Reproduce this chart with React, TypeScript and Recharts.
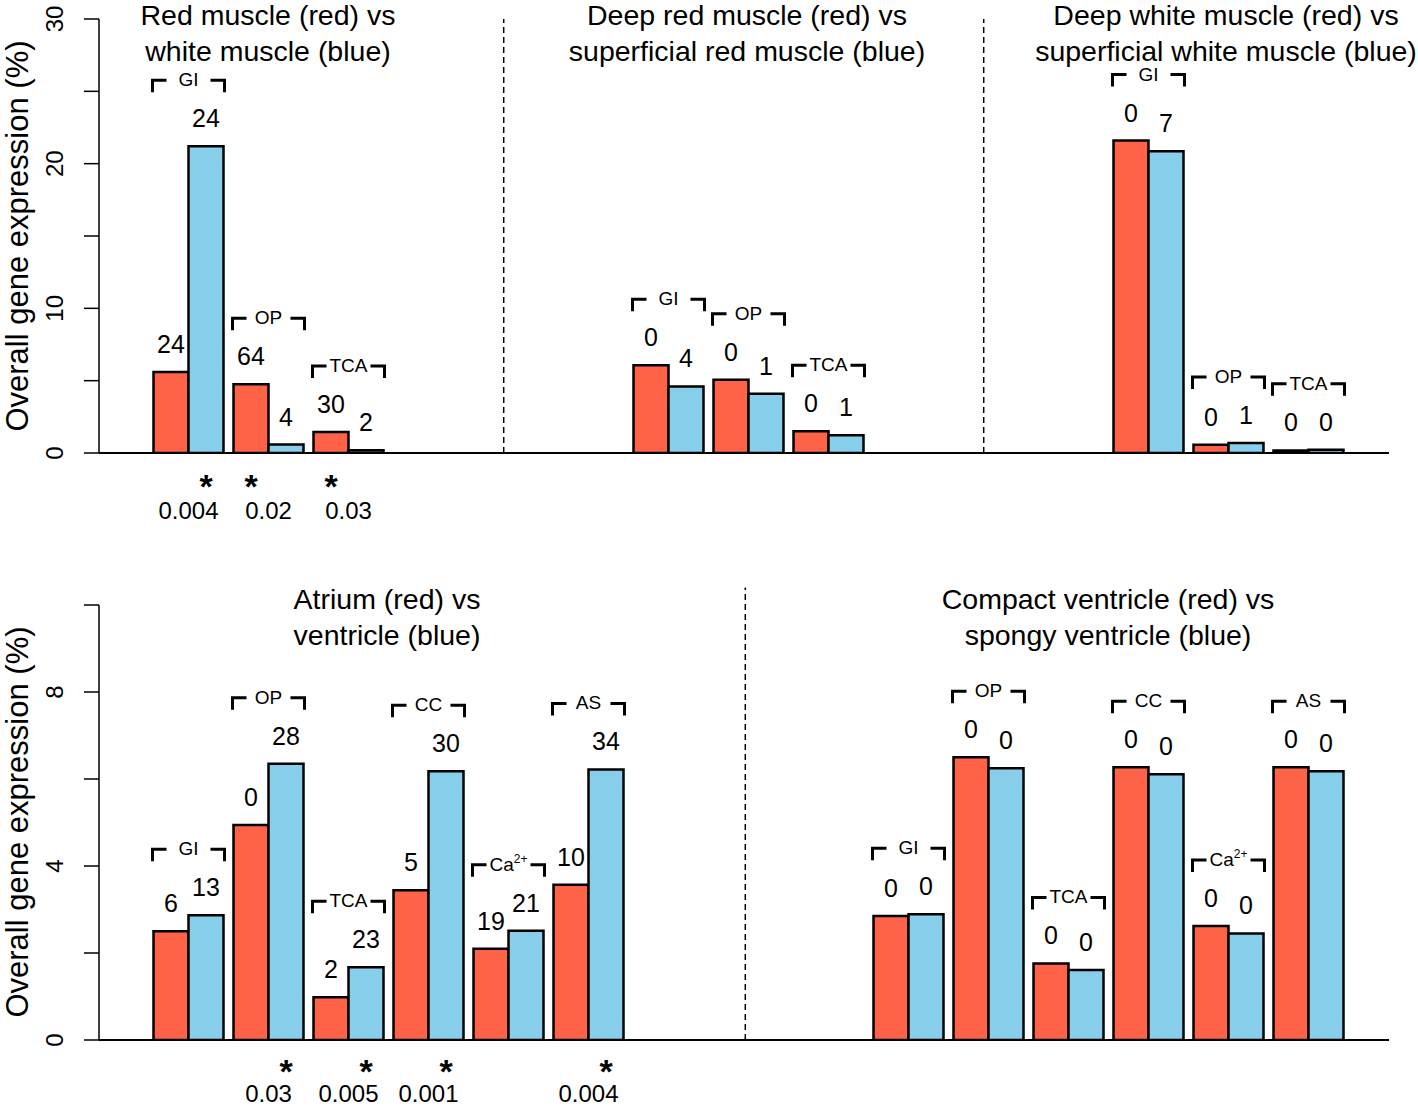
import React from "react";
import {
  BarChart,
  Bar,
  XAxis,
  YAxis,
  ReferenceLine,
  LabelList,
  Customized,
} from "recharts";

const FONT = '"Liberation Sans", Arial, Helvetica, sans-serif';
const RED = "#FF6347";
const BLUE = "#87CEEB";

// 15 slots per row; panels are separated by empty slots
const topSlots = [
  "a-GI", "a-OP", "a-TCA", "a-e1", "a-e2", "a-e3",
  "b-GI", "b-OP", "b-TCA", "b-e1", "b-e2", "b-e3",
  "c-GI", "c-OP", "c-TCA",
];
const topGroups = ["GI", "OP", "TCA", "", "", "", "GI", "OP", "TCA", "", "", "", "GI", "OP", "TCA"];
const topRed = [5.6, 4.75, 1.45, null, null, null, 6.06, 5.07, 1.5, null, null, null, 21.6, 0.57, 0.18];
const topBlue = [21.2, 0.58, 0.19, null, null, null, 4.6, 4.1, 1.22, null, null, null, 20.86, 0.69, 0.23];
const topRedCounts = [24, 64, 30, null, null, null, 0, 0, 0, null, null, null, 0, 0, 0];
const topBlueCounts = [24, 4, 2, null, null, null, 4, 1, 1, null, null, null, 7, 1, 0];
const topPValues = ["0.004", "0.02", "0.03", null, null, null, null, null, null, null, null, null, null, null, null];
const topTicks = [0, 5, 10, 15, 20, 25, 30];
const topTickLabels = [0, 10, 20, 30];
const topSeparators = [3.94, 9.94];
const topTitles = [
  ["Red muscle (red) vs", "white muscle (blue)"],
  ["Deep red muscle (red) vs", "superficial red muscle (blue)"],
  ["Deep white muscle (red) vs", "superficial white muscle (blue)"],
];

const bottomSlots = [
  "d-GI", "d-OP", "d-TCA", "d-CC", "d-Ca", "d-AS",
  "d-e1", "d-e2", "d-e3",
  "e-GI", "e-OP", "e-TCA", "e-CC", "e-Ca", "e-AS",
];
const bottomGroups = ["GI", "OP", "TCA", "CC", "Ca2+", "AS", "", "", "", "GI", "OP", "TCA", "CC", "Ca2+", "AS"];
const bottomRed = [2.5, 4.94, 0.98, 3.44, 2.1, 3.57, null, null, null, 2.85, 6.5, 1.76, 6.27, 2.62, 6.27];
const bottomBlue = [2.87, 6.35, 1.67, 6.18, 2.51, 6.22, null, null, null, 2.89, 6.25, 1.61, 6.11, 2.45, 6.18];
const bottomRedCounts = [6, 0, 2, 5, 19, 10, null, null, null, 0, 0, 0, 0, 0, 0];
const bottomBlueCounts = [13, 28, 23, 30, 21, 34, null, null, null, 0, 0, 0, 0, 0, 0];
const bottomPValues = [null, "0.03", "0.005", "0.001", null, "0.004", null, null, null, null, null, null, null, null, null];
const bottomTicks = [0, 2, 4, 6, 8, 10];
const bottomTickLabels = [0, 4, 8];
const bottomSeparators = [6.96];
const bottomTitles = [
  ["Atrium (red) vs", "ventricle (blue)"],
  ["Compact ventricle (red) vs", "spongy ventricle (blue)"],
];

type Row = {
  slot: string;
  group: string;
  red: number | null;
  blue: number | null;
  redN: number | null;
  blueN: number | null;
  p: string | null;
};

function buildRows(slots, groups, red, blue, redN, blueN, p): Row[] {
  return slots.map((slot, i) => ({
    slot,
    group: groups[i],
    red: red[i],
    blue: blue[i],
    redN: redN[i],
    blueN: blueN[i],
    p: p[i],
  }));
}

const topRows = buildRows(topSlots, topGroups, topRed, topBlue, topRedCounts, topBlueCounts, topPValues);
const bottomRows = buildRows(bottomSlots, bottomGroups, bottomRed, bottomBlue, bottomRedCounts, bottomBlueCounts, bottomPValues);

// band axis: plot spans 99..1389, 15 slots of 80px, first slot centred at 188.5
const PAD = { left: 49.5, right: 40.5 };
// slot-index axis for the panel separators: 0 -> first slot centre, 14 -> last slot centre
const SEP_PAD = { left: 89.5, right: 80.5 };

function groupLabel(name: string) {
  if (name === "Ca2+") {
    return (
      <>
        Ca
        <tspan dy={-8} fontSize={12}>2+</tspan>
      </>
    );
  }
  return name;
}

function rectOf(props) {
  const vb = props.viewBox || props;
  const top = Math.min(vb.y, vb.y + vb.height);
  const base = Math.max(vb.y, vb.y + vb.height);
  return { x: vb.x, width: vb.width, top, base };
}

function renderRedLabels(props, rows: Row[]) {
  const row = rows.find((r) => r.slot === props.value);
  if (!row || row.red == null || row.blue == null) return null;
  const { x, width, top, base } = rectOf(props);
  if (!isFinite(top) || base - top <= 0) return null;
  const perUnit = (base - top) / row.red;
  const blueTop = base - row.blue * perUnit;
  const maxTop = Math.min(top, blueTop);
  const left = x - 1;
  const right = x + 2 * width + 1;
  const by = maxTop - 66;
  return (
    <g>
      <text x={x + width / 2} y={top - 19} textAnchor="middle" fontSize={25} fontFamily={FONT} fill="#000">
        {row.redN}
      </text>
      <path
        d={`M${left},${by + 12} V${by} H${left + 14} M${right - 14},${by} H${right} V${by + 12}`}
        stroke="#000"
        strokeWidth={3}
        fill="none"
      />
      <text x={x + width} y={by + 6} textAnchor="middle" fontSize={19} fontFamily={FONT} fill="#000">
        {groupLabel(row.group)}
      </text>
    </g>
  );
}

function renderBlueLabels(props, rows: Row[]) {
  const row = rows.find((r) => r.slot === props.value);
  if (!row || row.blue == null) return null;
  const { x, width, top } = rectOf(props);
  if (!isFinite(top)) return null;
  return (
    <text x={x + width / 2} y={top - 19} textAnchor="middle" fontSize={25} fontFamily={FONT} fill="#000">
      {row.blueN}
    </text>
  );
}

function renderXTick(props, rows: Row[], starY: number, pY: number) {
  const row = rows.find((r) => r.slot === props.payload.value);
  if (!row || !row.p) return <g />;
  const dx = (row.red ?? 0) > (row.blue ?? 0) ? -17.5 : 17.5;
  return (
    <g>
      <text x={props.x + dx} y={props.y + starY} textAnchor="middle" fontSize={34} fontWeight="bold" fontFamily={FONT} fill="#000">
        *
      </text>
      <text x={props.x} y={props.y + pY} textAnchor="middle" fontSize={24} fontFamily={FONT} fill="#000">
        {row.p}
      </text>
    </g>
  );
}

function renderYTick(props, labelled: number[]) {
  const v = props.payload.value;
  if (!labelled.includes(v)) return <g />;
  const tx = props.x - 21;
  return (
    <text
      x={tx}
      y={props.y}
      transform={`rotate(-90, ${tx}, ${props.y})`}
      textAnchor="middle"
      fontSize={24}
      fontFamily={FONT}
      fill="#000"
    >
      {v}
    </text>
  );
}

function Titles({ titles, centers, baselines, labelY }) {
  return (
    <g fontFamily={FONT} fill="#000">
      {titles.map((lines, i) =>
        lines.map((line, j) => (
          <text key={`${i}-${j}`} x={centers[i]} y={baselines[j]} textAnchor="middle" fontSize={28.5}>
            {line}
          </text>
        ))
      )}
      <text
        x={28}
        y={labelY}
        transform={`rotate(-90, 28, ${labelY})`}
        textAnchor="middle"
        fontSize={31}
      >
        Overall gene expression (%)
      </text>
    </g>
  );
}

function Panel({ rows, height, marginTop, axisHeight, yMax, ticks, tickLabels, separators, sepTop, titles, starY, pY }) {
  return (
    <BarChart
      width={1418}
      height={height}
      data={rows}
      margin={{ top: marginTop, right: 29, bottom: 0, left: 0 }}
      barGap={0}
      barSize={35}
    >
      <XAxis
        dataKey="slot"
        type="category"
        padding={PAD}
        height={axisHeight}
        interval={0}
        tickLine={false}
        tickSize={0}
        tickMargin={0}
        axisLine={{ stroke: "#000", strokeWidth: 2 }}
        tick={(p) => renderXTick(p, rows, starY, pY)}
      />
      <XAxis xAxisId="sep" type="number" domain={[0, rows.length - 1]} padding={SEP_PAD} hide allowDataOverflow />
      <YAxis
        domain={[0, yMax]}
        ticks={ticks}
        interval={0}
        width={99}
        tickSize={15}
        tickMargin={0}
        axisLine={{ stroke: "#000", strokeWidth: 1.5 }}
        tickLine={{ stroke: "#000", strokeWidth: 1.5 }}
        tick={(p) => renderYTick(p, tickLabels)}
        allowDataOverflow
      />
      {separators.map((s) => (
        <ReferenceLine
          key={s}
          xAxisId="sep"
          segment={[{ x: s, y: 0 }, { x: s, y: sepTop }]}
          stroke="#000"
          strokeWidth={1.5}
          strokeDasharray="6 4"
          ifOverflow="visible"
        />
      ))}
      <Bar dataKey="red" fill={RED} stroke="#000" strokeWidth={2.5} isAnimationActive={false}>
        <LabelList dataKey="slot" content={(p) => renderRedLabels(p, rows)} />
      </Bar>
      <Bar dataKey="blue" fill={BLUE} stroke="#000" strokeWidth={2.5} isAnimationActive={false}>
        <LabelList dataKey="slot" content={(p) => renderBlueLabels(p, rows)} />
      </Bar>
      <Customized component={titles} />
    </BarChart>
  );
}

export default function App() {
  return (
    <div
      style={{
        position: "absolute",
        left: 0,
        top: 0,
        width: 1418,
        height: 1108,
        background: "#fff",
      }}
    >
      <Panel
        rows={topRows}
        height={560}
        marginTop={19}
        axisHeight={107}
        yMax={30}
        ticks={topTicks}
        tickLabels={topTickLabels}
        separators={topSeparators}
        sepTop={30}
        starY={45}
        pY={66}
        titles={
          <Titles titles={topTitles} centers={[268, 747, 1226]} baselines={[25, 61]} labelY={236} />
        }
      />
      <Panel
        rows={bottomRows}
        height={548}
        marginTop={45}
        axisHeight={68}
        yMax={10}
        ticks={bottomTicks}
        tickLabels={bottomTickLabels}
        separators={bottomSeparators}
        sepTop={10.4}
        starY={43}
        pY={62}
        titles={
          <Titles titles={bottomTitles} centers={[387, 1108]} baselines={[49, 85]} labelY={262} />
        }
      />
    </div>
  );
}
